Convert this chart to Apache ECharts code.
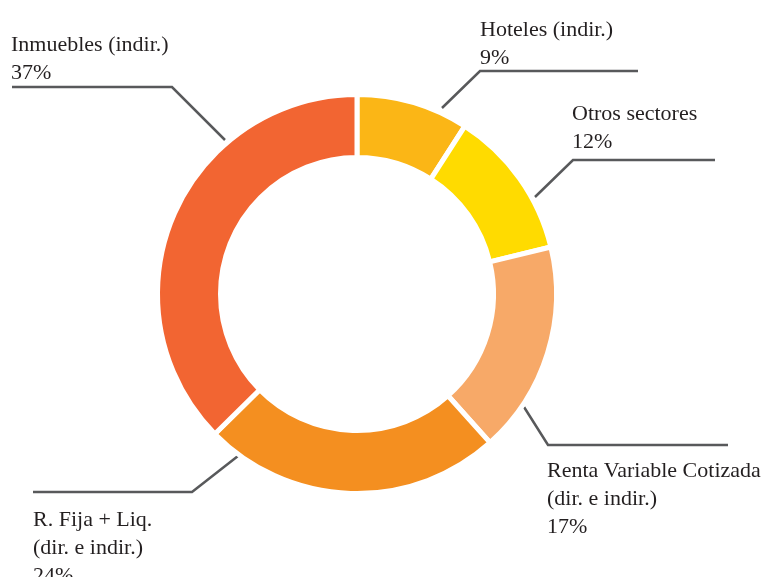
<!DOCTYPE html>
<html>
<head>
<meta charset="utf-8">
<script src="https://cdn.jsdelivr.net/npm/echarts@6/dist/echarts.min.js"></script>
<style>
html,body{margin:0;padding:0;background:#fff;}
#chart{width:767px;height:577px;}
</style>
</head>
<body>
<div id="chart"></div>
<script>
// Data
var categories = [
  'Hoteles (indir.)',
  'Otros sectores',
  'Renta Variable Cotizada\n(dir. e indir.)',
  'R. Fija + Liq.\n(dir. e indir.)',
  'Inmuebles (indir.)'
];
var values = [9, 12, 17, 24, 37];

// Styles
var colors = ['#FBB616', '#FFDB00', '#F7A968', '#F48F20', '#F26532'];

// Label layout (text anchor + leader line points), per category
var labelLayouts = [
  { x: 480, y: 16, line: [[442, 108], [480, 71], [638, 71]] },
  { x: 572, y: 100, line: [[535, 197], [573, 160], [715, 160]] },
  { x: 547, y: 457, line: [[524, 407], [548, 445], [728, 445]] },
  { x: 33, y: 506, line: [[238, 456], [192, 492], [33, 492]] },
  { x: 11, y: 31, line: [[225, 140], [172, 87], [12, 87]] }
];

var chart = echarts.init(document.getElementById('chart'), null, { renderer: 'canvas' });
var data = categories.map(function (c, i) {
  return { name: c, value: values[i], itemStyle: { color: colors[i] } };
});

chart.setOption({
  animation: false,
  backgroundColor: '#ffffff',
  series: [{
    type: 'pie',
    center: [357, 294],
    radius: [136.5, 199.5],
    startAngle: 90,
    clockwise: true,
    avoidLabelOverlap: false,
    itemStyle: { borderColor: '#ffffff', borderWidth: 5 },
    label: {
      show: true,
      position: 'outer',
      formatter: function (p) { return p.name + '\n' + p.value + '%'; },
      fontFamily: '"Liberation Serif", "DejaVu Serif", serif',
      fontSize: 22,
      lineHeight: 28,
      color: '#231F20',
      align: 'left',
      verticalAlign: 'top'
    },
    labelLine: {
      show: true,
      lineStyle: { color: '#58595B', width: 2.5 }
    },
    labelLayout: function (params) {
      var L = labelLayouts[params.dataIndex];
      return {
        x: L.x,
        y: L.y,
        align: 'left',
        verticalAlign: 'top',
        labelLinePoints: L.line
      };
    },
    emphasis: { disabled: true },
    data: data
  }]
});
</script>
</body>
</html>
